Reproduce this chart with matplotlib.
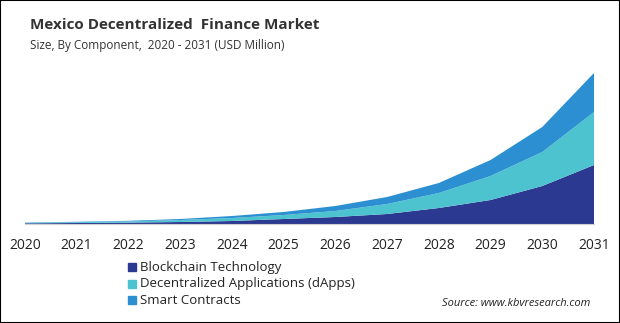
import matplotlib.pyplot as plt
import numpy as np

plt.rcParams['font.family'] = ['Open Sans', 'DejaVu Sans']

years = [2020, 2021, 2022, 2023, 2024, 2025, 2026, 2027, 2028, 2029, 2030, 2031]
blockchain = [0.7, 1.0, 1.4, 2.0, 3.0, 5.0, 7.0, 10.0, 16.0, 24.0, 38.0, 59.0]
dapps = [0.5, 0.8, 1.2, 2.0, 3.0, 4.0, 6.0, 10.0, 15.0, 24.0, 34.0, 53.0]
smart = [0.3, 0.4, 0.6, 1.0, 2.0, 3.0, 5.0, 7.0, 10.0, 16.0, 25.0, 39.0]

labels = ["Blockchain Technology", "Decentralized Applications (dApps)", "Smart Contracts"]
colors = ["#2B3990", "#4EC3D0", "#2C8FD1"]

fig = plt.figure(figsize=(6.2, 3.23), dpi=100)
ax = fig.add_axes([25/620, 1 - 224/323, (594 - 25)/620, 160/323])

ax.stackplot(years, blockchain, dapps, smart, colors=colors, linewidth=0)
ax.set_xlim(2020, 2031)
ax.set_ylim(0, 160)
ax.set_xticks(years)
ax.set_xticklabels([str(y) for y in years], fontsize=10, color="#222222")
ax.set_yticks([])
for s in ["top", "right", "left"]:
    ax.spines[s].set_visible(False)
ax.spines["bottom"].set_color("#d0d0d0")
ax.tick_params(axis="x", length=0, pad=10)

# title
fig.text(30/620, 1 - 25/323, "Mexico Decentralized  Finance Market", fontsize=11,
         fontweight="bold", color="#333333", va="center")
fig.text(30/620, 1 - 46/323, "Size, By Component,  2020 - 2031 (USD Million)", fontsize=8.5,
         color="#333333", va="center")

# legend
for i, (lab, c) in enumerate(zip(labels, colors)):
    yy = 1 - (267 + i * 16.5) / 323
    fig.patches.append(plt.Rectangle((128/620, yy - 4/323), 8/620, 8/323,
                                     transform=fig.transFigure, color=c))
    fig.text(140/620, yy, lab, fontsize=9.5, color="#222222", va="center")

fig.text(590/620, 1 - 304/323, "Source: www.kbvresearch.com", fontsize=8, style="italic",
         color="#222222", ha="right", va="center")

# border
fig.patches.append(plt.Rectangle((0, 0), 1, 1, transform=fig.transFigure, fill=False,
                                 edgecolor="black", linewidth=1.5))

fig.savefig("out.png", dpi=100)
